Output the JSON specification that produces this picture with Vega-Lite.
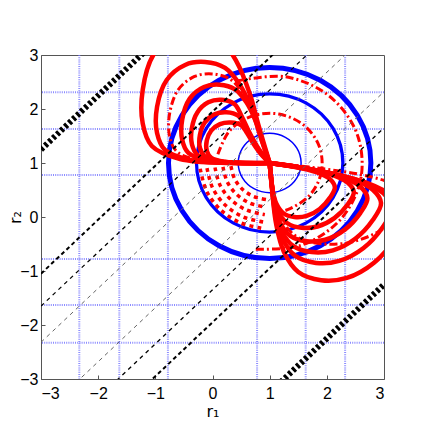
{
  "$schema": "https://vega.github.io/schema/vega-lite/v6.json",
  "width": 343,
  "height": 324,
  "autosize": {"type": "none"},
  "padding": {"left": 41, "top": 55, "right": 52, "bottom": 57},
  "background": "white",
  "config": {
    "view": {"stroke": "#555", "strokeWidth": 1},
    "axis": {"labelFont": "Liberation Sans", "labelFontSize": 16, "labelColor": "#000", "titleFont": "DejaVu Sans", "titleFontSize": 16, "titleFontWeight": "normal", "titleColor": "#000", "domain": false, "grid": false, "tickColor": "#555", "tickSize": -4}
  },
  "datasets": {
    "petals": [
      {"k":"U1","i":0,"x":1,"y":1},{"k":"U1","i":1,"x":0.323,"y":1},{"k":"U1","i":2,"x":-0.567,"y":1.074},{"k":"U1","i":3,"x":-1.062,"y":1.316},{"k":"U1","i":4,"x":-1.22,"y":1.728},{"k":"U1","i":5,"x":-1.22,"y":2.36},{"k":"U1","i":6,"x":-1.029,"y":3.014},{"k":"U1","i":7,"x":-0.667,"y":3.379},{"k":"U1","i":8,"x":-0.274,"y":3.45},{"k":"U1","i":9,"x":0.121,"y":3.305},{"k":"U1","i":10,"x":0.414,"y":2.891},{"k":"U1","i":11,"x":0.651,"y":2.286},{"k":"U1","i":12,"x":0.809,"y":1.681},{"k":"U1","i":13,"x":1,"y":1},
      {"k":"U2","i":0,"x":1,"y":1},{"k":"U2","i":1,"x":0.399,"y":1},{"k":"U2","i":2,"x":-0.391,"y":1.056},{"k":"U2","i":3,"x":-0.83,"y":1.241},{"k":"U2","i":4,"x":-0.97,"y":1.555},{"k":"U2","i":5,"x":-0.97,"y":2.038},{"k":"U2","i":6,"x":-0.801,"y":2.537},{"k":"U2","i":7,"x":-0.479,"y":2.816},{"k":"U2","i":8,"x":-0.131,"y":2.87},{"k":"U2","i":9,"x":0.22,"y":2.76},{"k":"U2","i":10,"x":0.48,"y":2.444},{"k":"U2","i":11,"x":0.691,"y":1.982},{"k":"U2","i":12,"x":0.831,"y":1.52},{"k":"U2","i":13,"x":1,"y":1},
      {"k":"U3","i":0,"x":1,"y":1},{"k":"U3","i":1,"x":0.533,"y":1},{"k":"U3","i":2,"x":-0.08,"y":1.044},{"k":"U3","i":3,"x":-0.421,"y":1.187},{"k":"U3","i":4,"x":-0.53,"y":1.431},{"k":"U3","i":5,"x":-0.53,"y":1.805},{"k":"U3","i":6,"x":-0.398,"y":2.192},{"k":"U3","i":7,"x":-0.149,"y":2.408},{"k":"U3","i":8,"x":0.122,"y":2.45},{"k":"U3","i":9,"x":0.394,"y":2.364},{"k":"U3","i":10,"x":0.596,"y":2.119},{"k":"U3","i":11,"x":0.76,"y":1.761},{"k":"U3","i":12,"x":0.868,"y":1.403},{"k":"U3","i":13,"x":1,"y":1},
      {"k":"U4","i":0,"x":1,"y":1},{"k":"U4","i":1,"x":0.585,"y":1},{"k":"U4","i":2,"x":0.04,"y":1.035},{"k":"U4","i":3,"x":-0.263,"y":1.151},{"k":"U4","i":4,"x":-0.36,"y":1.347},{"k":"U4","i":5,"x":-0.36,"y":1.649},{"k":"U4","i":6,"x":-0.265,"y":1.936},{"k":"U4","i":7,"x":-0.074,"y":2.123},{"k":"U4","i":8,"x":0.157,"y":2.17},{"k":"U4","i":9,"x":0.388,"y":2.088},{"k":"U4","i":10,"x":0.51,"y":1.866},{"k":"U4","i":11,"x":0.646,"y":1.562},{"k":"U4","i":12,"x":0.81,"y":1.257},{"k":"U4","i":13,"x":1,"y":1},
      {"k":"U5","i":0,"x":1,"y":1},{"k":"U5","i":1,"x":0.628,"y":1},{"k":"U5","i":2,"x":0.139,"y":1.028},{"k":"U5","i":3,"x":-0.133,"y":1.121},{"k":"U5","i":4,"x":-0.22,"y":1.279},{"k":"U5","i":5,"x":-0.22,"y":1.522},{"k":"U5","i":6,"x":-0.135,"y":1.752},{"k":"U5","i":7,"x":0.036,"y":1.902},{"k":"U5","i":8,"x":0.244,"y":1.94},{"k":"U5","i":9,"x":0.451,"y":1.874},{"k":"U5","i":10,"x":0.561,"y":1.696},{"k":"U5","i":11,"x":0.683,"y":1.451},{"k":"U5","i":12,"x":0.829,"y":1.207},{"k":"U5","i":13,"x":1,"y":1},
      {"k":"U6","i":0,"x":1,"y":1},{"k":"U6","i":1,"x":0.664,"y":1},{"k":"U6","i":2,"x":0.223,"y":1.023},{"k":"U6","i":3,"x":-0.022,"y":1.097},{"k":"U6","i":4,"x":-0.1,"y":1.223},{"k":"U6","i":5,"x":-0.1,"y":1.416},{"k":"U6","i":6,"x":-0.023,"y":1.6},{"k":"U6","i":7,"x":0.131,"y":1.72},{"k":"U6","i":8,"x":0.318,"y":1.75},{"k":"U6","i":9,"x":0.505,"y":1.698},{"k":"U6","i":10,"x":0.604,"y":1.555},{"k":"U6","i":11,"x":0.714,"y":1.36},{"k":"U6","i":12,"x":0.846,"y":1.165},{"k":"U6","i":13,"x":1,"y":1},
      {"k":"L1","i":0,"x":1,"y":1},{"k":"L1","i":1,"x":1.775,"y":0.87},{"k":"L1","i":2,"x":2.7,"y":0.631},{"k":"L1","i":3,"x":3.2,"y":0.349},{"k":"L1","i":4,"x":3.375,"y":0.023},{"k":"L1","i":5,"x":3.2,"y":-0.389},{"k":"L1","i":6,"x":2.825,"y":-0.845},{"k":"L1","i":7,"x":2.35,"y":-1.127},{"k":"L1","i":8,"x":1.9,"y":-1.17},{"k":"L1","i":9,"x":1.5,"y":-1.018},{"k":"L1","i":10,"x":1.25,"y":-0.649},{"k":"L1","i":11,"x":1.113,"y":-0.128},{"k":"L1","i":12,"x":1.05,"y":0.414},{"k":"L1","i":13,"x":1,"y":1},
      {"k":"L2","i":0,"x":1,"y":1},{"k":"L2","i":1,"x":1.698,"y":0.889},{"k":"L2","i":2,"x":2.53,"y":0.685},{"k":"L2","i":3,"x":2.98,"y":0.445},{"k":"L2","i":4,"x":3.138,"y":0.167},{"k":"L2","i":5,"x":2.98,"y":-0.184},{"k":"L2","i":6,"x":2.643,"y":-0.573},{"k":"L2","i":7,"x":2.215,"y":-0.813},{"k":"L2","i":8,"x":1.81,"y":-0.85},{"k":"L2","i":9,"x":1.45,"y":-0.721},{"k":"L2","i":10,"x":1.225,"y":-0.406},{"k":"L2","i":11,"x":1.101,"y":0.038},{"k":"L2","i":12,"x":1.045,"y":0.5},{"k":"L2","i":13,"x":1,"y":1},
      {"k":"L3","i":0,"x":1,"y":1},{"k":"L3","i":1,"x":1.636,"y":0.901},{"k":"L3","i":2,"x":2.394,"y":0.719},{"k":"L3","i":3,"x":2.804,"y":0.505},{"k":"L3","i":4,"x":2.948,"y":0.257},{"k":"L3","i":5,"x":2.804,"y":-0.056},{"k":"L3","i":6,"x":2.497,"y":-0.403},{"k":"L3","i":7,"x":2.107,"y":-0.617},{"k":"L3","i":8,"x":1.738,"y":-0.65},{"k":"L3","i":9,"x":1.41,"y":-0.535},{"k":"L3","i":10,"x":1.205,"y":-0.254},{"k":"L3","i":11,"x":1.092,"y":0.142},{"k":"L3","i":12,"x":1.041,"y":0.554},{"k":"L3","i":13,"x":1,"y":1},
      {"k":"L4","i":0,"x":1,"y":1},{"k":"L4","i":1,"x":1.558,"y":0.913},{"k":"L4","i":2,"x":2.224,"y":0.753},{"k":"L4","i":3,"x":2.584,"y":0.565},{"k":"L4","i":4,"x":2.71,"y":0.347},{"k":"L4","i":5,"x":2.584,"y":0.072},{"k":"L4","i":6,"x":2.314,"y":-0.233},{"k":"L4","i":7,"x":1.972,"y":-0.421},{"k":"L4","i":8,"x":1.648,"y":-0.45},{"k":"L4","i":9,"x":1.36,"y":-0.349},{"k":"L4","i":10,"x":1.18,"y":-0.102},{"k":"L4","i":11,"x":1.081,"y":0.246},{"k":"L4","i":12,"x":1.036,"y":0.608},{"k":"L4","i":13,"x":1,"y":1},
      {"k":"L5","i":0,"x":1,"y":1},{"k":"L5","i":1,"x":1.481,"y":0.928},{"k":"L5","i":2,"x":2.054,"y":0.796},{"k":"L5","i":3,"x":2.364,"y":0.64},{"k":"L5","i":4,"x":2.473,"y":0.46},{"k":"L5","i":5,"x":2.364,"y":0.232},{"k":"L5","i":6,"x":2.132,"y":-0.02},{"k":"L5","i":7,"x":1.837,"y":-0.176},{"k":"L5","i":8,"x":1.558,"y":-0.2},{"k":"L5","i":9,"x":1.31,"y":-0.116},{"k":"L5","i":10,"x":1.155,"y":0.088},{"k":"L5","i":11,"x":1.07,"y":0.376},{"k":"L5","i":12,"x":1.031,"y":0.676},{"k":"L5","i":13,"x":1,"y":1},
      {"k":"L6","i":0,"x":1,"y":1},{"k":"L6","i":1,"x":1.372,"y":0.94},{"k":"L6","i":2,"x":1.816,"y":0.83},{"k":"L6","i":3,"x":2.056,"y":0.7},{"k":"L6","i":4,"x":2.14,"y":0.55},{"k":"L6","i":5,"x":2.056,"y":0.36},{"k":"L6","i":6,"x":1.876,"y":0.15},{"k":"L6","i":7,"x":1.648,"y":0.02},{"k":"L6","i":8,"x":1.432,"y":0},{"k":"L6","i":9,"x":1.24,"y":0.07},{"k":"L6","i":10,"x":1.12,"y":0.24},{"k":"L6","i":11,"x":1.054,"y":0.48},{"k":"L6","i":12,"x":1.024,"y":0.73},{"k":"L6","i":13,"x":1,"y":1}
    ],
    "rings": [
      {"ring":"a","i":0,"x":1.55,"y":1},{"ring":"a","i":1,"x":1.476,"y":1.275},{"ring":"a","i":2,"x":1.275,"y":1.476},{"ring":"a","i":3,"x":1,"y":1.55},{"ring":"a","i":4,"x":0.725,"y":1.476},{"ring":"a","i":5,"x":0.524,"y":1.275},{"ring":"a","i":6,"x":0.45,"y":1},{"ring":"a","i":7,"x":0.524,"y":0.725},{"ring":"a","i":8,"x":0.725,"y":0.524},{"ring":"a","i":9,"x":1,"y":0.45},{"ring":"a","i":10,"x":1.275,"y":0.524},{"ring":"a","i":11,"x":1.476,"y":0.725},
      {"ring":"b","i":0,"x":2.28,"y":1},{"ring":"b","i":1,"x":2.109,"y":1.64},{"ring":"b","i":2,"x":1.64,"y":2.109},{"ring":"b","i":3,"x":1,"y":2.28},{"ring":"b","i":4,"x":0.36,"y":2.109},{"ring":"b","i":5,"x":-0.109,"y":1.64},{"ring":"b","i":6,"x":-0.28,"y":1},{"ring":"b","i":7,"x":-0.109,"y":0.36},{"ring":"b","i":8,"x":0.36,"y":-0.109},{"ring":"b","i":9,"x":1,"y":-0.28},{"ring":"b","i":10,"x":1.64,"y":-0.109},{"ring":"b","i":11,"x":2.109,"y":0.36},
      {"ring":"c","i":0,"x":2.77,"y":1},{"ring":"c","i":1,"x":2.533,"y":1.885},{"ring":"c","i":2,"x":1.885,"y":2.533},{"ring":"c","i":3,"x":1,"y":2.77},{"ring":"c","i":4,"x":0.115,"y":2.533},{"ring":"c","i":5,"x":-0.533,"y":1.885},{"ring":"c","i":6,"x":-0.77,"y":1},{"ring":"c","i":7,"x":-0.533,"y":0.115},{"ring":"c","i":8,"x":0.115,"y":-0.533},{"ring":"c","i":9,"x":1,"y":-0.77},{"ring":"c","i":10,"x":1.885,"y":-0.533},{"ring":"c","i":11,"x":2.533,"y":0.115}
    ],
    "dashdot": [
      {"k":"A","i":0,"x":0.094,"y":1.16},{"k":"A","i":1,"x":0.295,"y":1.592},{"k":"A","i":2,"x":0.685,"y":1.865},{"k":"A","i":3,"x":1.16,"y":1.906},{"k":"A","i":4,"x":1.592,"y":1.705},{"k":"A","i":5,"x":1.865,"y":1.315},{"k":"A","i":6,"x":1.906,"y":0.84},{"k":"A","i":7,"x":1.705,"y":0.408},{"k":"A","i":8,"x":1.315,"y":0.135},{"k":"A","i":9,"x":1.08,"y":0.084},
      {"k":"B","i":0,"x":0.446,"y":2.523},{"k":"B","i":1,"x":1.282,"y":2.596},{"k":"B","i":2,"x":2.042,"y":2.241},{"k":"B","i":3,"x":2.523,"y":1.554},{"k":"B","i":4,"x":2.596,"y":0.718},{"k":"B","i":5,"x":2.241,"y":-0.042},{"k":"B","i":6,"x":1.554,"y":-0.523},{"k":"B","i":7,"x":0.718,"y":-0.596},
      {"k":"UD","i":0,"x":1,"y":1},{"k":"UD","i":1,"x":0.466,"y":1},{"k":"UD","i":2,"x":-0.236,"y":1.05},{"k":"UD","i":3,"x":-0.626,"y":1.213},{"k":"UD","i":4,"x":-0.75,"y":1.49},{"k":"UD","i":5,"x":-0.75,"y":1.916},{"k":"UD","i":6,"x":-0.6,"y":2.356},{"k":"UD","i":7,"x":-0.314,"y":2.602},{"k":"UD","i":8,"x":-0.005,"y":2.65},{"k":"UD","i":9,"x":0.307,"y":2.553},{"k":"UD","i":10,"x":0.538,"y":2.274},{"k":"UD","i":11,"x":0.725,"y":1.866},{"k":"UD","i":12,"x":0.85,"y":1.459},{"k":"UD","i":13,"x":1,"y":1},
      {"k":"LD","i":0,"x":1,"y":1},{"k":"LD","i":1,"x":1.806,"y":0.91},{"k":"LD","i":2,"x":2.768,"y":0.745},{"k":"LD","i":3,"x":3.288,"y":0.55},{"k":"LD","i":4,"x":3.47,"y":0.325},{"k":"LD","i":5,"x":3.288,"y":0.04},{"k":"LD","i":6,"x":2.898,"y":-0.275},{"k":"LD","i":7,"x":2.404,"y":-0.47},{"k":"LD","i":8,"x":1.936,"y":-0.5},{"k":"LD","i":9,"x":1.52,"y":-0.395},{"k":"LD","i":10,"x":1.26,"y":-0.14},{"k":"LD","i":11,"x":1.117,"y":0.22},{"k":"LD","i":12,"x":1.052,"y":0.595},{"k":"LD","i":13,"x":1,"y":1}
    ],
    "dotted": [
      {"k":"a","i":0,"x":0.323,"y":0.941},{"k":"a","i":1,"x":0.384,"y":0.712},{"k":"a","i":2,"x":0.519,"y":0.519},{"k":"a","i":3,"x":0.712,"y":0.384},{"k":"a","i":4,"x":0.941,"y":0.323},
      {"k":"b","i":0,"x":0.183,"y":0.929},{"k":"b","i":1,"x":0.257,"y":0.653},{"k":"b","i":2,"x":0.42,"y":0.42},{"k":"b","i":3,"x":0.653,"y":0.257},{"k":"b","i":4,"x":0.929,"y":0.183},
      {"k":"c","i":0,"x":0.044,"y":0.916},{"k":"c","i":1,"x":0.13,"y":0.594},{"k":"c","i":2,"x":0.321,"y":0.321},{"k":"c","i":3,"x":0.594,"y":0.13},{"k":"c","i":4,"x":0.916,"y":0.044},
      {"k":"d","i":0,"x":-0.096,"y":0.904},{"k":"d","i":1,"x":0.003,"y":0.535},{"k":"d","i":2,"x":0.222,"y":0.222},{"k":"d","i":3,"x":0.535,"y":0.003},{"k":"d","i":4,"x":0.904,"y":-0.096},
      {"k":"e","i":0,"x":-0.215,"y":0.894},{"k":"e","i":1,"x":-0.105,"y":0.484},{"k":"e","i":2,"x":0.137,"y":0.137},{"k":"e","i":3,"x":0.484,"y":-0.105},{"k":"e","i":4,"x":0.894,"y":-0.215}
    ]
  },
  "layer": [
    {
      "data": {"values": [{"x": -2.33}, {"x": -1.63}, {"x": -0.78}, {"x": 0.78}, {"x": 1.63}, {"x": 2.32}]},
      "mark": {"type": "rule", "stroke": "#6f6fff", "strokeWidth": 2, "strokeDash": [1, 1.2], "opacity": 0.8},
      "encoding": {"x": {"field": "x", "type": "quantitative", "scale": {"domain": [-3, 3], "nice": false, "zero": false}, "axis": {"values": [-3, -2, -1, 0, 1, 2, 3], "title": "r₁", "labelPadding": 10, "titleY": 37, "titleBaseline": "alphabetic"}}}
    },
    {
      "data": {"values": [{"y": -2.33}, {"y": -1.63}, {"y": -0.78}, {"y": 0.78}, {"y": 1.63}, {"y": 2.31}]},
      "mark": {"type": "rule", "stroke": "#6f6fff", "strokeWidth": 2, "strokeDash": [1, 1.2], "opacity": 0.8},
      "encoding": {"y": {"field": "y", "type": "quantitative", "scale": {"domain": [-3, 3], "nice": false, "zero": false}, "axis": {"values": [-3, -2, -1, 0, 1, 2, 3], "title": "r₂", "labelPadding": 7, "titleX": -21, "titleBaseline": "alphabetic"}}}
    },
    {
      "data": {"name": "rings"},
      "mark": {"type": "line", "stroke": "#0000ff", "interpolate": "cardinal-closed", "clip": true},
      "encoding": {
        "x": {"field": "x", "type": "quantitative", "scale": {"domain": [-3, 3], "nice": false, "zero": false}, "axis": {"values": [-3, -2, -1, 0, 1, 2, 3], "title": "r₁", "labelPadding": 10, "titleY": 37, "titleBaseline": "alphabetic"}},
        "y": {"field": "y", "type": "quantitative", "scale": {"domain": [-3, 3], "nice": false, "zero": false}, "axis": {"values": [-3, -2, -1, 0, 1, 2, 3], "title": "r₂", "labelPadding": 7, "titleX": -21, "titleBaseline": "alphabetic"}},
        "detail": {"field": "ring"},
        "order": {"field": "i"},
        "strokeWidth": {"field": "ring", "type": "ordinal", "scale": {"domain": ["a", "b", "c"], "range": [1.5, 5, 8]}, "legend": null}
      }
    },
    {
      "data": {"name": "dotted"},
      "mark": {"type": "line", "stroke": "#ff0000", "strokeWidth": 3.5, "strokeDash": [4, 4], "interpolate": "catmull-rom", "clip": true},
      "encoding": {
        "x": {"field": "x", "type": "quantitative", "scale": {"domain": [-3, 3], "nice": false, "zero": false}, "axis": {"values": [-3, -2, -1, 0, 1, 2, 3], "title": "r₁", "labelPadding": 10, "titleY": 37, "titleBaseline": "alphabetic"}},
        "y": {"field": "y", "type": "quantitative", "scale": {"domain": [-3, 3], "nice": false, "zero": false}, "axis": {"values": [-3, -2, -1, 0, 1, 2, 3], "title": "r₂", "labelPadding": 7, "titleX": -21, "titleBaseline": "alphabetic"}},
        "detail": {"field": "k"},
        "order": {"field": "i"}
      }
    },
    {
      "data": {"name": "dashdot"},
      "mark": {"type": "line", "stroke": "#ff0000", "strokeWidth": 3, "strokeDash": [8, 3, 2, 3], "interpolate": "catmull-rom", "clip": true},
      "encoding": {
        "x": {"field": "x", "type": "quantitative", "scale": {"domain": [-3, 3], "nice": false, "zero": false}, "axis": {"values": [-3, -2, -1, 0, 1, 2, 3], "title": "r₁", "labelPadding": 10, "titleY": 37, "titleBaseline": "alphabetic"}},
        "y": {"field": "y", "type": "quantitative", "scale": {"domain": [-3, 3], "nice": false, "zero": false}, "axis": {"values": [-3, -2, -1, 0, 1, 2, 3], "title": "r₂", "labelPadding": 7, "titleX": -21, "titleBaseline": "alphabetic"}},
        "detail": {"field": "k"},
        "order": {"field": "i"}
      }
    },
    {
      "data": {"name": "petals"},
      "mark": {"type": "line", "stroke": "#ff0000", "strokeWidth": 4.5, "interpolate": "catmull-rom", "clip": true},
      "encoding": {
        "x": {"field": "x", "type": "quantitative", "scale": {"domain": [-3, 3], "nice": false, "zero": false}, "axis": {"values": [-3, -2, -1, 0, 1, 2, 3], "title": "r₁", "labelPadding": 10, "titleY": 37, "titleBaseline": "alphabetic"}},
        "y": {"field": "y", "type": "quantitative", "scale": {"domain": [-3, 3], "nice": false, "zero": false}, "axis": {"values": [-3, -2, -1, 0, 1, 2, 3], "title": "r₂", "labelPadding": 7, "titleX": -21, "titleBaseline": "alphabetic"}},
        "detail": {"field": "k"},
        "order": {"field": "i"}
      }
    },
    {
      "data": {"values": [{"x": -3, "y": -1.05, "x2": 3, "y2": 4.95}, {"x": -3, "y": -4.95, "x2": 3, "y2": 1.05}]},
      "mark": {"type": "rule", "stroke": "#000", "strokeWidth": 2, "strokeDash": [4, 3], "clip": true},
      "encoding": {
        "x": {"field": "x", "type": "quantitative", "scale": {"domain": [-3, 3], "nice": false, "zero": false}, "axis": {"values": [-3, -2, -1, 0, 1, 2, 3], "title": "r₁", "labelPadding": 10, "titleY": 37, "titleBaseline": "alphabetic"}},
        "y": {"field": "y", "type": "quantitative", "scale": {"domain": [-3, 3], "nice": false, "zero": false}, "axis": {"values": [-3, -2, -1, 0, 1, 2, 3], "title": "r₂", "labelPadding": 7, "titleX": -21, "titleBaseline": "alphabetic"}},
        "x2": {"field": "x2"}, "y2": {"field": "y2"}
      }
    },
    {
      "data": {"values": [{"x": -3, "y": -1.65, "x2": 3, "y2": 4.35}, {"x": -3, "y": -4.35, "x2": 3, "y2": 1.65}]},
      "mark": {"type": "rule", "stroke": "#000", "strokeWidth": 1.3, "strokeDash": [4, 4], "clip": true},
      "encoding": {
        "x": {"field": "x", "type": "quantitative", "scale": {"domain": [-3, 3], "nice": false, "zero": false}, "axis": {"values": [-3, -2, -1, 0, 1, 2, 3], "title": "r₁", "labelPadding": 10, "titleY": 37, "titleBaseline": "alphabetic"}},
        "y": {"field": "y", "type": "quantitative", "scale": {"domain": [-3, 3], "nice": false, "zero": false}, "axis": {"values": [-3, -2, -1, 0, 1, 2, 3], "title": "r₂", "labelPadding": 7, "titleX": -21, "titleBaseline": "alphabetic"}},
        "x2": {"field": "x2"}, "y2": {"field": "y2"}
      }
    },
    {
      "data": {"values": [{"x": -3, "y": -2.32, "x2": 3, "y2": 3.68}, {"x": -3, "y": -3.68, "x2": 3, "y2": 2.32}]},
      "mark": {"type": "rule", "stroke": "#666", "strokeWidth": 1, "strokeDash": [4, 4], "clip": true},
      "encoding": {
        "x": {"field": "x", "type": "quantitative", "scale": {"domain": [-3, 3], "nice": false, "zero": false}, "axis": {"values": [-3, -2, -1, 0, 1, 2, 3], "title": "r₁", "labelPadding": 10, "titleY": 37, "titleBaseline": "alphabetic"}},
        "y": {"field": "y", "type": "quantitative", "scale": {"domain": [-3, 3], "nice": false, "zero": false}, "axis": {"values": [-3, -2, -1, 0, 1, 2, 3], "title": "r₂", "labelPadding": 7, "titleX": -21, "titleBaseline": "alphabetic"}},
        "x2": {"field": "x2"}, "y2": {"field": "y2"}
      }
    },
    {
      "data": {"values": [{"x": -3, "y": 1.25, "x2": 3, "y2": 7.25}, {"x": -3, "y": -7.25, "x2": 3, "y2": -1.25}]},
      "mark": {"type": "rule", "stroke": "#000", "strokeWidth": 6, "strokeDash": [3, 2.5], "clip": true},
      "encoding": {
        "x": {"field": "x", "type": "quantitative", "scale": {"domain": [-3, 3], "nice": false, "zero": false}, "axis": {"values": [-3, -2, -1, 0, 1, 2, 3], "title": "r₁", "labelPadding": 10, "titleY": 37, "titleBaseline": "alphabetic"}},
        "y": {"field": "y", "type": "quantitative", "scale": {"domain": [-3, 3], "nice": false, "zero": false}, "axis": {"values": [-3, -2, -1, 0, 1, 2, 3], "title": "r₂", "labelPadding": 7, "titleX": -21, "titleBaseline": "alphabetic"}},
        "x2": {"field": "x2"}, "y2": {"field": "y2"}
      }
    }
  ]
}
